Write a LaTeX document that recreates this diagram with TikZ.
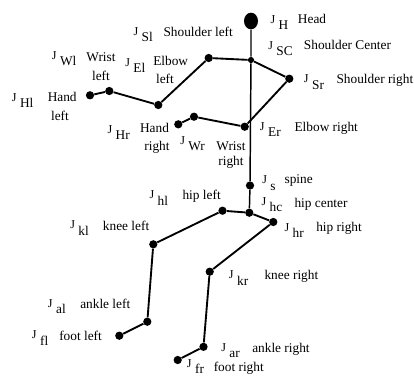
\documentclass[tikz,border=0pt]{standalone}
\usepackage{fontspec}
\setmainfont{Liberation Serif}
\usetikzlibrary{shapes.geometric}
% joint label: J with a lowered subscript
\newcommand{\jlab}[1]{{\fontsize{9}{9}\selectfont J}\kern2.6pt\raisebox{-4.9pt}{#1}}
\tikzset{
  joint/.style={circle, fill=black, inner sep=0pt, minimum size=6.2pt},
  smalljoint/.style={circle, fill=black, inner sep=0pt, minimum size=4.6pt},
  headjoint/.style={ellipse, fill=black, inner sep=0pt, minimum width=10.5pt, minimum height=12.5pt},
  bone/.style={line width=1.4pt, line join=round},
  trunk/.style={line width=1.1pt},
  lbl/.style={inner sep=0pt, anchor=base west, font=\fontsize{10}{12}\selectfont},
  clbl/.style={inner sep=0pt, anchor=base, font=\fontsize{10}{12}\selectfont}
}
\begin{document}
\begin{tikzpicture}[x=0.75pt, y=-0.75pt]
\useasboundingbox (0,0) rectangle (414,383);

% joints
\node[headjoint]  (head) at (251,21) {};
\node[smalljoint] (sc)   at (251,60) {};
\node[joint] (sl)  at (208.7,58) {};
\node[joint] (el)  at (158.3,105) {};
\node[joint] (wl)  at (109.3,91) {};
\node[joint] (hl)  at (90,95.3) {};
\node[joint] (sr)  at (289.3,78.7) {};
\node[joint] (er)  at (244.7,126.7) {};
\node[joint] (wr)  at (194,116.7) {};
\node[joint] (hr)  at (178.3,124.3) {};
\node[joint] (sp)  at (250,185.5) {};
\node[joint] (hc)  at (249.3,212.7) {};
\node[joint] (hpl) at (222.5,210.7) {};
\node[joint] (hpr) at (273.3,222) {};
\node[joint] (kl)  at (153.3,244.3) {};
\node[joint] (al)  at (147.3,321.7) {};
\node[joint] (fl)  at (119.3,335.7) {};
\node[joint] (kr)  at (209.7,271.7) {};
\node[joint] (ar)  at (203.5,346.8) {};
\node[joint] (fr)  at (177.7,360) {};

% skeleton
\draw[trunk] (head) -- (sc) -- (sp) -- (hc);
\draw[bone] (sc) -- (sl) -- (el) -- (wl) -- (hl);
\draw[bone] (sc) -- (sr) -- (er) -- (wr) -- (hr);
\draw[bone] (hc) -- (hpl) -- (kl) -- (al) -- (fl);
\draw[bone] (hc) -- (hpr) -- (kr) -- (ar) -- (fr);

% joint symbols
\node[lbl] (tjh)  at (270.3,23)   {\jlab{H}};
\node[lbl] (tjsc) at (268,49)     {\jlab{SC}};
\node[lbl] (tjsr) at (303.7,82.5) {\jlab{Sr}};
\node[lbl] (tjer) at (259.7,130)  {\jlab{Er}};
\node[lbl] (tjs)  at (262,183.5)  {\jlab{s}};
\node[lbl] (tjsl) at (133.3,35)   {\jlab{Sl}};
\node[lbl] (tjwl) at (51.7,59)    {\jlab{Wl}};
\node[lbl] (tjel) at (125,66)     {\jlab{El}};
\node[lbl] (tjhl) at (11.7,101)   {\jlab{Hl}};
\node[lbl] (tjhr) at (107.3,133)  {\jlab{Hr}};
\node[lbl] (tjwr) at (180,144)    {\jlab{Wr}};
\node[lbl] (tjhpl) at (149.3,198.5) {\jlab{hl}};
\node[lbl] (tjhc) at (261.3,205)  {\jlab{hc}};
\node[lbl] (tjhpr) at (284.3,231) {\jlab{hr}};
\node[lbl] (tjkl) at (70,228.5)   {\jlab{kl}};
\node[lbl] (tjkr) at (228.7,278.5) {\jlab{kr}};
\node[lbl] (tjal) at (47.7,307)   {\jlab{al}};
\node[lbl] (tjfl) at (31.7,338.5) {\jlab{fl}};
\node[lbl] (tjar) at (221,351)    {\jlab{ar}};
\node[lbl] (tjfr) at (186.7,367)  {\jlab{fr}};

% joint names
\node[lbl] (nh)   at (297.7,23)   {Head};
\node[lbl] (nsc)  at (303.7,49)   {Shoulder Center};
\node[lbl] (nsr)  at (336.3,83)   {Shoulder right};
\node[lbl] (ner)  at (294.3,131.5) {Elbow right};
\node[clbl] (nwr1) at (231,150)   {Wrist};
\node[clbl] (nwr2) at (231,165.5) {right};
\node[lbl] (nsp)  at (284.3,183.5) {spine};
\node[lbl] (nsl)  at (163.3,36)   {Shoulder left};
\node[clbl] (nwl1) at (101,61.7)  {Wrist};
\node[clbl] (nwl2) at (101,80)    {left};
\node[clbl] (nel1) at (170.7,65)  {Elbow};
\node[clbl] (nel2) at (165,83.3)  {left};
\node[clbl] (nhl1) at (62.2,101.7) {Hand};
\node[clbl] (nhl2) at (60,120.7)  {left};
\node[clbl] (nhr1) at (154.5,132.7) {Hand};
\node[clbl] (nhr2) at (157,150)   {right};
\node[lbl] (nhpl) at (182.3,199)  {hip left};
\node[lbl] (nhc)  at (294.3,207.3) {hip center};
\node[lbl] (nhpr) at (316,231.7)  {hip right};
\node[lbl] (nkl)  at (102.7,230.7) {knee left};
\node[lbl] (nkr)  at (264.3,279.3) {knee right};
\node[lbl] (nal)  at (80,308.3)   {ankle left};
\node[lbl] (nfl)  at (59,340)     {foot left};
\node[lbl] (nar)  at (252,352.3)  {ankle right};
\node[lbl] (nfr)  at (213.5,371)  {foot right};
\end{tikzpicture}
\end{document}
